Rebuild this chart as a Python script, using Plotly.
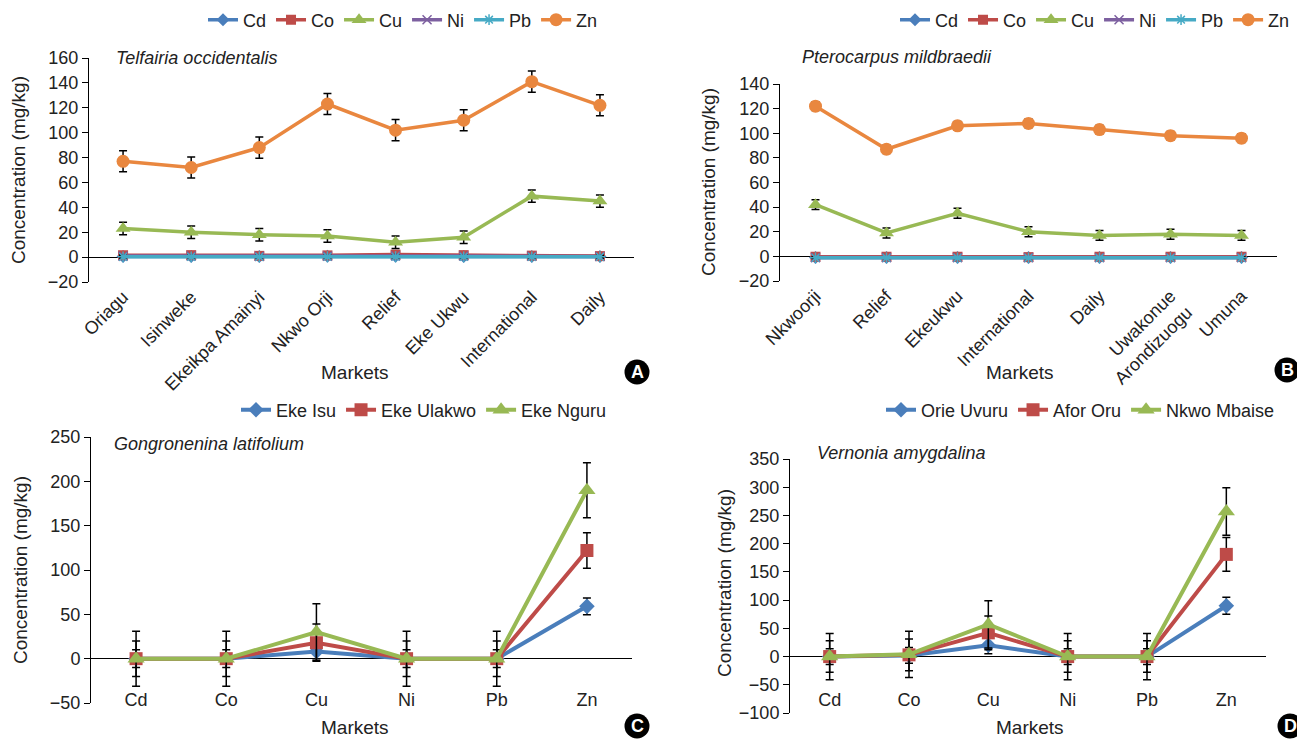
import plotly.graph_objects as go

W, H = 1305, 740
OFF = 8  # page body margin offset

# ---------------- data ----------------
metals = ["Cd", "Co", "Cu", "Ni", "Pb", "Zn"]

markets_a = ["Oriagu", "Isinweke", "Ekeikpa Amainyi", "Nkwo Orji", "Relief",
             "Eke Ukwu", "International", "Daily"]
a_cd = [0.5, 0.5, 0.4, 0.6, 0.6, 0.5, 0.5, 0.4]
a_co = [1.5, 1.6, 1.0, 1.4, 2.0, 1.6, 1.2, 0.8]
a_cu = [23, 20, 18, 17, 12, 16, 49, 45]
a_ni = [0.8, 0.9, 0.6, 0.8, 1.0, 0.9, 0.7, 0.5]
a_pb = [0.2, 0.2, 0.2, 0.3, 0.3, 0.2, 0.2, 0.2]
a_zn = [77, 72, 88, 123, 102, 110, 141, 122]
a_cu_err = [5, 5, 5, 5, 5, 5, 5, 5]
a_zn_err = [8.5, 8.5, 8.5, 8.5, 8.5, 8.5, 8.5, 8.5]
a_small_err = [1, 1, 1, 1, 1, 1, 1, 1]

markets_b = ["Nkwoorji", "Relief", "Ekeukwu", "International", "Daily",
             "Uwakonue<br>Arondizuogu", "Umuna"]
b_cd = [-1, -1, -1, -1, -1, -1, -1]
b_co = [-0.3, -0.3, -0.3, -0.6, -0.3, -0.3, -0.3]
b_cu = [42, 19, 35, 20, 17, 18, 17]
b_ni = [-1, -1, -1, -1, -1, -1, -1]
b_pb = [-1.2, -1.2, -1.2, -1.2, -1.2, -1.2, -1.2]
b_zn = [122, 87, 106, 108, 103, 98, 96]
b_cu_err = [4, 4, 4, 4, 4, 4, 4]
b_zn_err = [3.5, 3.5, 3.5, 3.5, 3.5, 3.5, 3.5]
b_small_err = [0.5, 0.5, 0.5, 0.5, 0.5, 0.5, 0.5]

c_names = ["Eke Isu", "Eke Ulakwo", "Eke Nguru"]
c_eke_isu = [0, 0, 8, 0, 0, 59]
c_eke_ulakwo = [0, 0, 18, 0, 0, 122]
c_eke_nguru = [0, 0, 30, 0, 0, 190]
c_eke_isu_err = [10, 10, 8, 10, 10, 9.5]
c_eke_ulakwo_err = [20, 20, 21, 20, 20, 20]
c_eke_nguru_err = [31, 31, 32, 31, 31, 31]

d_names = ["Orie Uvuru", "Afor Oru", "Nkwo Mbaise"]
d_orie_uvuru = [0, 2, 20, 0, 0, 90]
d_afor_oru = [0, 3, 42, 0, 0, 181]
d_nkwo_mbaise = [0, 4, 57, 0, 0, 257]
d_orie_uvuru_err = [14, 14, 15, 14, 14, 15]
d_afor_oru_err = [28, 28, 30, 28, 28, 30]
d_nkwo_mbaise_err = [41, 41, 42, 41, 41, 42]

titles = ["Telfairia occidentalis", "Pterocarpus mildbraedii",
          "Gongronenina latifolium", "Vernonia amygdalina"]

# ---------------- style ----------------
FONT = "Liberation Sans, Arial, sans-serif"
C_BLUE = "#4A7EBB"
C_RED = "#BE4B48"
C_GREEN = "#98B954"
C_PURPLE = "#7D60A0"
C_CYAN = "#46AAC5"
C_ORANGE = "#E9873F"
TXT = "#222222"


def px(x):
    return (x - OFF) / W


def py(y):
    return 1 - (y - OFF) / H


def dx(p0, p1):
    return [px(p0), px(p1)]


def dy(top, bottom):
    return [py(bottom), py(top)]


fig = go.Figure()

metal_styles = [
    ("Cd", C_BLUE, "diamond", 10),
    ("Co", C_RED, "square", 10),
    ("Cu", C_GREEN, "triangle-up", 13),
    ("Ni", C_PURPLE, "x-thin-open", 9),
    ("Pb", C_CYAN, "asterisk-open", 9),
    ("Zn", C_ORANGE, "circle", 13),
]


def add_metal_panel(cats, series, errs, xa, ya, leg):
    for (name, col, sym, sz), vals, err in zip(metal_styles, series, errs):
        mk = dict(symbol=sym, size=sz, color=col)
        if sym.endswith("-open"):
            mk["line"] = dict(color=col, width=1.5)
        fig.add_trace(go.Scatter(
            x=cats, y=vals, name=name, mode="lines+markers",
            line=dict(color=col, width=3.5), marker=mk,
            error_y=dict(type="data", array=err, color="black",
                         thickness=1.5, width=4),
            xaxis=xa, yaxis=ya, legend=leg))


add_metal_panel(markets_a, [a_cd, a_co, a_cu, a_ni, a_pb, a_zn],
                [a_small_err, a_small_err, a_cu_err, a_small_err, a_small_err, a_zn_err],
                "x", "y", "legend")
add_metal_panel(markets_b, [b_cd, b_co, b_cu, b_ni, b_pb, b_zn],
                [b_small_err, b_small_err, b_cu_err, b_small_err, b_small_err, b_zn_err],
                "x2", "y2", "legend2")

market_styles = [(C_BLUE, "diamond", 12), (C_RED, "square", 13), (C_GREEN, "triangle-up", 15)]


def add_market_panel(names, series, errs, xa, ya, leg):
    for nm, (col, sym, sz), vals, err in zip(names, market_styles, series, errs):
        fig.add_trace(go.Scatter(
            x=metals, y=vals, name=nm, mode="lines+markers",
            line=dict(color=col, width=4), marker=dict(symbol=sym, size=sz, color=col),
            error_y=dict(type="data", array=err, color="black", thickness=1.5, width=4),
            xaxis=xa, yaxis=ya, legend=leg))


add_market_panel(c_names, [c_eke_isu, c_eke_ulakwo, c_eke_nguru],
                 [c_eke_isu_err, c_eke_ulakwo_err, c_eke_nguru_err], "x3", "y3", "legend3")
add_market_panel(d_names, [d_orie_uvuru, d_afor_oru, d_nkwo_mbaise],
                 [d_orie_uvuru_err, d_afor_oru_err, d_nkwo_mbaise_err], "x4", "y4", "legend4")

tickfont = dict(family=FONT, size=18, color=TXT)


def xaxis(dom, n, angle, anchor=None, position=None):
    d = dict(domain=dom, type="category", range=[-0.5, n - 0.5],
             showline=False, ticks="", showgrid=False, zeroline=False,
             tickangle=angle, tickfont=tickfont, fixedrange=True, automargin=False)
    if position is None:
        d["anchor"] = anchor
    else:
        d["anchor"] = "free"
        d["position"] = position
    return d


def yaxis(dom, anchor, rng, dt):
    return dict(domain=dom, anchor=anchor, range=rng, dtick=dt, tick0=0,
                showline=True, linecolor="black", linewidth=1,
                ticks="outside", ticklen=6, tickcolor="black",
                showgrid=False, zeroline=True, zerolinecolor="black", zerolinewidth=1.3,
                tickfont=tickfont, fixedrange=True, automargin=False)


legend_common = dict(orientation="h", font=dict(family=FONT, size=18, color=TXT),
                     itemwidth=30, bgcolor="rgba(0,0,0,0)", tracegroupgap=0,
                     xanchor="right", yanchor="middle", itemclick=False)

fig.update_layout(
    width=W, height=H, margin=dict(l=0, r=0, t=0, b=0, autoexpand=False),
    paper_bgcolor="white", plot_bgcolor="white",
    xaxis=xaxis(dx(89, 634), len(markets_a), -45, anchor="y"),
    yaxis=yaxis(dy(58, 282), "x", [-20, 160], 20),
    xaxis2=xaxis(dx(780, 1277), len(markets_b), -45, anchor="y2"),
    yaxis2=yaxis(dy(84, 281), "x2", [-20, 140], 20),
    xaxis3=xaxis(dx(91, 632), len(metals), 0, position=py(687)),
    yaxis3=yaxis(dy(437, 703), "x3", [-50, 250], 50),
    xaxis4=xaxis(dx(790, 1266), len(metals), 0, position=py(687)),
    yaxis4=yaxis(dy(459, 713), "x4", [-100, 350], 50),
    legend=dict(legend_common, x=px(603), y=py(20)),
    legend2=dict(legend_common, x=px(1295), y=py(20)),
    legend3=dict(legend_common, x=px(612), y=py(410)),
    legend4=dict(legend_common, x=px(1280), y=py(410)),
    showlegend=True,
)

ann = []
# italic panel titles
for t, (x, y) in zip(titles, [(114, 58), (800, 57), (112, 444), (815, 453)]):
    ann.append(dict(text=t, x=px(x), y=py(y), xref="paper", yref="paper",
                    xanchor="left", yanchor="middle", showarrow=False,
                    font=dict(family=FONT, size=18, color=TXT, style="italic")))
# y titles
for (x, y) in [(18, 170), (708, 182), (20, 570), (724, 583)]:
    ann.append(dict(text="Concentration (mg/kg)", x=px(x), y=py(y), xref="paper", yref="paper",
                    xanchor="center", yanchor="middle", showarrow=False, textangle=-90,
                    font=dict(family=FONT, size=19, color=TXT)))
# x titles
for (x, y) in [(355, 372), (1020, 373), (355, 727), (1030, 727)]:
    ann.append(dict(text="Markets", x=px(x), y=py(y), xref="paper", yref="paper",
                    xanchor="center", yanchor="middle", showarrow=False,
                    font=dict(family=FONT, size=19, color=TXT)))

shapes = []
for lab, (x, y) in zip("ABCD", [(637, 372), (1287, 370), (637, 726), (1290, 726)]):
    r = 12.5
    shapes.append(dict(type="circle", xref="paper", yref="paper",
                       x0=px(x - r), x1=px(x + r), y0=py(y + r), y1=py(y - r),
                       fillcolor="black", line=dict(color="black", width=0)))
    ann.append(dict(text="<b>%s</b>" % lab, x=px(x), y=py(y), xref="paper", yref="paper",
                    xanchor="center", yanchor="middle", showarrow=False,
                    font=dict(family="Liberation Sans, Arial, sans-serif", size=18, color="white")))

fig.update_layout(annotations=ann, shapes=shapes)

fig.write_html("out.html")
